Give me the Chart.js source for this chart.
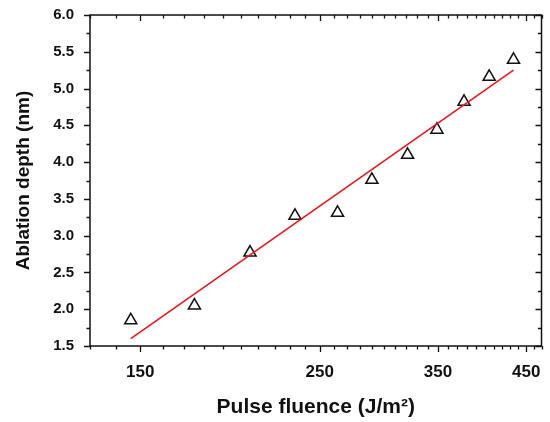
<!DOCTYPE html>
<html>
<head>
<meta charset="utf-8">
<script src="https://cdn.jsdelivr.net/npm/chart.js@4/dist/chart.umd.min.js"></script>
<style>
    html, body { margin: 0; padding: 0; background: #fff; }
    .wrap { width: 550px; height: 422px; }
</style>
</head>
<body>
<div class="wrap"><canvas id="ablationChart" width="550" height="422"></canvas></div>
<script>
// measured points
const fluence = [146, 175, 205, 233, 263, 290, 321, 349, 377, 405, 434];
const depth = [1.85, 2.05, 2.77, 3.27, 3.31, 3.76, 4.10, 4.44, 4.82, 5.16, 5.39];

// linear fit, end points only
const fitX = [146, 434];
const fitY = [1.60, 5.25];

// axes
const xMin = 130, xMax = 470;
const xLabels = [150, 250, 350, 450];
const yLabels = [1.5, 2.0, 2.5, 3.0, 3.5, 4.0, 4.5, 5.0, 5.5, 6.0];

(function () {
    const canvas = document.querySelector("#ablationChart");
    if (!canvas) return;

    const font = 'Arial, "Liberation Sans", Helvetica, sans-serif';

    // minor x ticks every 10, major at labelled values
    const xTickValues = [];
    for (let v = xMin; v <= xMax; v += 10) xTickValues.push(v);

    // y minor ticks halfway between labels
    const yMinor = [];
    for (let i = 0; i < yLabels.length - 1; i++) {
        yMinor.push((yLabels[i] + yLabels[i + 1]) / 2);
    }

    const frameTicks = {
        id: "frameTicks",
        afterDraw(chart) {
            const { ctx, chartArea: a, scales } = chart;
            const x = scales.x, y = scales.y;
            ctx.save();
            ctx.strokeStyle = "#111";
            ctx.lineWidth = 1.5;
            ctx.strokeRect(a.left, a.top, a.right - a.left, a.bottom - a.top);

            ctx.beginPath();
            xTickValues.forEach((v) => {
                const px = Math.round(x.getPixelForValue(v)) + 0.5;
                const len = xLabels.includes(v) ? 6 : 3.5;
                ctx.moveTo(px, a.bottom);
                ctx.lineTo(px, a.bottom + len);
                ctx.moveTo(px, a.top);
                ctx.lineTo(px, a.top + len);
            });
            yLabels.concat(yMinor).forEach((v) => {
                const py = Math.round(y.getPixelForValue(v)) + 0.5;
                const len = yLabels.includes(v) ? 6 : 3.5;
                ctx.moveTo(a.left, py);
                ctx.lineTo(a.left - len, py);
                ctx.moveTo(a.right, py);
                ctx.lineTo(a.right - len, py);
            });
            ctx.lineWidth = 1.3;
            ctx.stroke();
            ctx.restore();
        },
    };

    const points = fluence.map((f, i) => ({ x: f, y: depth[i] }));
    const fit = fitX.map((f, i) => ({ x: f, y: fitY[i] }));

    new Chart(canvas, {
        type: "scatter",
        data: {
            datasets: [
                {
                    label: "Fit",
                    data: fit,
                    showLine: true,
                    borderColor: "rgb(222, 24, 32)",
                    borderWidth: 1.6,
                    pointRadius: 0,
                    fill: false,
                },
                {
                    label: "Ablation depth",
                    data: points,
                    pointStyle: "triangle",
                    pointRadius: 7,
                    pointBorderWidth: 1.5,
                    borderColor: "#111",
                    backgroundColor: "rgba(255,255,255,0)",
                },
            ],
        },
        options: {
            responsive: false,
            animation: false,
            layout: {
                padding: { left: 0, right: 8, top: 15, bottom: 0 },
            },
            plugins: {
                legend: { display: false },
                tooltip: { enabled: false },
            },
            scales: {
                x: {
                    type: "logarithmic",
                    min: xMin,
                    max: xMax,
                    afterBuildTicks: (scale) => {
                        scale.ticks = xTickValues.map((v) => ({ value: v, major: xLabels.includes(v) }));
                    },
                    afterFit: (scale) => {
                        scale.height = 76;
                        scale.paddingLeft = 0;
                        scale.paddingRight = 0;
                    },
                    grid: { display: false, drawTicks: false },
                    border: { display: false },
                    ticks: {
                        autoSkip: false,
                        maxRotation: 0,
                        padding: 16,
                        color: "#111",
                        font: { family: font, size: 17, weight: "bold" },
                        callback: (value) => (xLabels.includes(value) ? String(value) : ""),
                    },
                    title: {
                        display: true,
                        text: "Pulse fluence (J/m²)",
                        color: "#111",
                        padding: { top: 2, bottom: 2 },
                        font: { family: font, size: 21, weight: "bold" },
                    },
                },
                y: {
                    min: 1.5,
                    max: 6.0,
                    afterBuildTicks: (scale) => {
                        scale.ticks = yLabels.map((v) => ({ value: v }));
                    },
                    afterFit: (scale) => {
                        scale.width = 90;
                        scale.paddingTop = 0;
                        scale.paddingBottom = 0;
                    },
                    grid: { display: false, drawTicks: false },
                    border: { display: false },
                    ticks: {
                        padding: 16,
                        color: "#111",
                        font: { family: font, size: 15, weight: "bold" },
                        callback: (value) => Number(value).toFixed(1),
                    },
                    title: {
                        display: true,
                        text: "Ablation depth (nm)",
                        color: "#111",
                        padding: { top: 12, bottom: 0 },
                        font: { family: font, size: 19, weight: "bold" },
                    },
                },
            },
        },
        plugins: [frameTicks],
    });
})();
</script>
</body>
</html>
